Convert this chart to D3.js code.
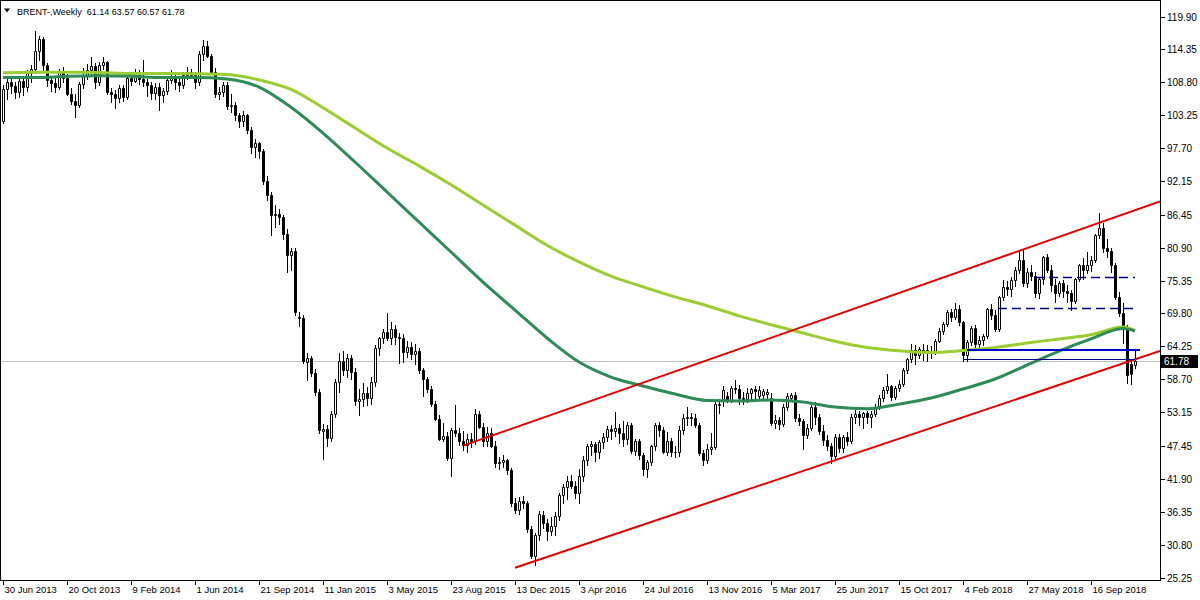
<!DOCTYPE html>
<html><head><meta charset="utf-8">
<script src="https://cdn.jsdelivr.net/npm/d3@7"></script>
<style>body{margin:0;background:#fff}svg{display:block}text{font-family:"Liberation Sans",Arial,sans-serif}</style>
</head><body><svg id="c" width="1200" height="600"></svg>
<script>
// Weekly BRENT candles, week 0 = 30 Jun 2013
const openP = [102.2,107.7,108.8,108.1,107.2,109.0,108.0,110.4,111.0,114.1,116.1,111.7,109.2,108.6,108.0,110.6,109.6,106.9,105.7,105.0,108.5,110.0,110.8,111.6,108.9,111.8,112.2,107.1,106.8,106.1,107.8,106.4,109.6,109.1,110.2,109.3,108.9,108.4,107.0,108.0,106.7,107.3,109.2,109.7,108.9,108.3,110.0,110.6,110.0,108.8,113.6,115.0,113.3,110.6,106.8,107.2,108.4,104.8,104.9,103.3,102.3,103.2,100.8,97.9,98.5,97.2,92.2,89.8,86.4,86.6,86.1,83.2,79.7,80.4,69.2,69.0,61.6,62.3,59.8,56.5,49.9,50.3,48.8,52.8,58.3,61.8,60.3,62.3,60.0,55.0,55.3,56.4,55.5,58.3,63.9,65.6,66.7,65.6,67.1,65.8,65.7,63.3,64.1,63.0,63.5,60.3,58.7,57.1,54.6,52.0,48.7,49.2,45.4,50.1,49.6,48.3,47.6,48.6,48.2,52.8,50.7,48.3,49.6,47.5,44.5,44.8,45.1,43.4,37.9,36.6,38.2,37.8,33.5,28.8,32.5,35.8,34.4,33.1,33.9,35.6,39.1,40.5,41.6,40.7,39.5,42.3,45.0,47.5,47.8,46.4,48.1,49.0,50.3,50.0,50.5,49.6,48.6,51.0,46.6,48.3,45.9,43.5,44.8,47.4,51.0,50.2,46.5,48.2,46.5,46.4,50.2,52.1,52.4,52.2,51.0,46.2,45.0,46.9,47.3,54.3,55.4,55.9,55.2,57.2,57.0,55.5,55.4,56.3,57.0,55.8,56.1,56.2,55.6,51.4,51.9,51.2,54.0,55.6,56.0,52.1,51.7,49.3,50.5,54.0,52.4,50.0,48.4,47.4,45.8,49.0,47.1,48.9,48.2,52.4,52.8,52.3,53.0,52.4,52.8,54.0,55.6,56.9,57.5,55.7,57.3,57.9,60.3,62.1,63.7,62.8,63.6,63.7,63.5,63.3,65.2,66.9,68.0,70.0,69.2,70.6,68.4,62.8,64.9,67.3,64.6,65.4,66.0,70.5,69.6,67.2,72.5,74.3,73.9,75.4,77.1,78.9,75.0,76.8,76.1,73.3,75.6,79.3,77.2,74.6,73.2,74.9,73.6,73.2,71.9,75.6,77.9,77.1,78.0,78.9,83.0,84.2,80.8,80.3,78.0,72.6,69.8,67.4,61.3,61.14];
const highP = [108.3,109.7,109.4,108.9,109.8,109.9,110.8,111.8,117.4,116.6,116.5,112.0,109.8,109.8,111.0,111.4,110.2,107.8,106.8,108.9,111.2,111.9,113.1,112.0,112.2,113.0,112.4,107.8,107.5,108.4,108.4,110.0,110.5,111.0,110.9,112.6,109.4,108.8,108.6,108.6,107.8,109.5,110.9,110.3,109.4,110.6,111.3,111.0,110.5,114.0,115.9,115.7,113.6,111.2,108.0,108.9,108.9,106.9,105.4,103.6,103.9,103.5,101.3,99.2,98.8,97.6,93.0,90.3,88.1,87.4,86.4,84.0,80.9,80.8,70.0,69.5,63.2,62.6,60.5,57.0,51.2,51.0,53.3,58.8,63.2,63.4,63.0,62.8,60.6,57.0,58.0,57.4,59.0,64.5,65.8,67.2,69.8,68.3,67.8,66.5,66.4,65.2,65.0,64.6,64.0,60.6,59.0,57.6,55.0,52.6,51.3,49.8,50.5,54.4,50.4,49.9,49.5,49.6,53.6,53.4,51.3,50.6,50.4,48.3,45.6,46.0,45.3,43.7,38.7,38.9,39.0,38.2,34.0,32.8,36.4,36.4,35.2,35.5,36.3,39.5,41.0,42.4,42.5,41.5,43.5,45.7,47.8,48.3,48.1,48.5,49.6,50.8,50.9,53.1,51.2,51.6,51.5,51.3,48.6,48.6,46.3,45.0,47.6,51.3,51.5,50.6,49.8,48.8,47.5,50.8,52.8,54.1,53.0,52.8,51.4,46.7,47.8,49.6,55.0,55.3,57.6,56.5,57.6,58.6,57.8,56.6,57.2,57.3,57.6,57.5,57.1,57.1,56.3,52.6,52.4,54.5,56.4,56.4,56.6,52.8,52.0,51.2,54.3,54.8,52.8,50.9,49.3,48.0,49.5,49.4,49.3,49.8,52.8,53.5,53.4,53.2,53.4,53.3,54.5,56.0,57.4,59.5,57.8,57.6,58.5,60.6,62.3,64.7,64.4,64.1,64.6,64.4,64.3,65.5,67.3,68.4,70.4,70.6,71.5,71.2,68.6,65.4,67.6,67.8,66.0,66.4,70.8,71.4,70.4,72.8,75.4,75.3,76.0,77.6,80.5,80.6,77.5,77.9,76.8,75.9,79.5,79.8,78.0,75.6,75.3,75.4,74.6,73.7,75.8,78.2,79.2,80.2,79.5,83.2,86.8,85.0,82.3,80.8,78.3,73.4,71.5,67.9,62.0,63.57];
const lowP = [101.9,106.0,107.0,106.2,106.3,106.7,107.4,108.9,110.3,112.5,110.9,108.1,107.3,107.2,107.6,108.8,106.6,105.2,102.9,104.6,107.9,109.3,110.1,107.9,108.3,111.0,106.8,105.5,104.5,105.4,105.6,105.9,108.3,108.8,108.5,108.2,106.5,106.0,106.0,104.1,105.4,106.8,108.7,107.6,107.3,107.8,109.3,109.5,107.9,108.4,112.5,113.0,110.3,106.3,106.0,106.5,104.3,103.8,102.4,101.2,101.5,100.3,96.9,96.2,96.1,91.6,88.9,83.0,84.4,84.9,82.4,76.8,77.1,69.6,67.6,61.5,58.6,59.3,56.0,49.7,45.3,47.5,48.3,52.3,56.5,59.4,59.0,58.7,54.3,52.7,54.2,54.3,54.5,57.5,62.8,64.8,65.3,64.6,64.7,61.4,61.6,62.5,62.1,61.2,59.8,55.9,56.6,54.2,51.8,48.4,48.2,45.0,42.3,49.2,47.6,46.8,46.5,47.2,47.8,50.4,47.4,47.5,47.2,43.9,43.5,43.9,42.7,37.3,36.1,35.9,36.9,33.0,28.6,27.4,31.6,33.6,31.5,32.5,32.4,35.0,37.8,38.5,40.3,38.6,37.8,41.5,44.2,45.9,44.9,45.4,47.1,48.2,48.6,49.2,48.0,47.5,47.8,46.3,45.9,45.3,42.5,42.2,44.3,46.8,49.2,46.2,45.9,45.8,45.6,45.7,49.4,50.9,51.0,50.6,45.9,44.2,44.6,46.1,47.0,53.0,54.2,54.8,54.9,56.4,54.6,54.6,54.8,55.4,55.5,55.2,55.3,55.4,51.0,50.4,50.3,50.8,53.5,55.1,51.6,50.9,47.0,48.8,50.1,51.2,49.4,47.6,46.7,44.5,45.3,46.5,46.5,47.6,47.9,51.4,51.0,50.5,51.3,50.7,52.5,53.6,55.0,56.4,55.2,55.4,56.8,57.5,59.8,61.6,61.2,62.2,61.9,61.8,62.2,63.0,64.9,66.3,67.6,68.6,68.9,67.9,61.8,61.8,64.5,63.6,63.7,64.4,65.7,68.8,66.8,66.9,72.0,72.9,72.8,74.4,76.6,74.5,74.3,75.4,72.6,72.4,74.8,76.8,73.6,71.8,72.7,72.5,71.8,70.3,71.6,75.2,75.6,76.6,77.0,78.5,82.5,80.2,79.3,76.8,72.3,69.3,64.8,58.1,57.9,60.57];
const closeP = [107.7,108.8,108.1,107.2,109.0,108.0,110.4,111.0,114.1,116.1,111.7,109.2,108.6,108.0,110.6,109.6,106.9,105.7,105.0,108.5,110.0,110.8,111.6,108.9,111.8,112.2,107.1,106.8,106.1,107.8,106.4,109.6,109.1,110.2,109.3,108.9,108.4,107.0,108.0,106.7,107.3,109.2,109.7,108.9,108.3,110.0,110.6,110.0,108.8,113.6,115.0,113.3,110.6,106.8,107.2,108.4,104.8,104.9,103.3,102.3,103.2,100.8,97.9,98.5,97.2,92.2,89.8,86.4,86.6,86.1,83.2,79.7,80.4,70.1,69.0,61.8,62.3,59.8,56.5,50.1,50.3,48.8,52.8,58.3,61.8,60.3,62.3,60.0,55.0,55.3,56.4,55.5,58.3,63.9,65.6,66.7,65.6,67.1,65.8,65.7,63.3,64.1,63.0,63.5,60.3,58.7,57.1,54.6,52.0,48.7,49.2,45.4,50.1,49.6,48.3,47.6,48.6,48.2,52.8,50.7,48.3,49.6,47.5,44.5,44.8,45.1,43.4,37.9,36.6,38.2,37.8,33.5,28.8,32.4,36.0,34.4,33.1,33.9,35.6,39.1,40.5,41.6,40.7,39.5,42.3,45.0,47.5,47.8,46.4,48.1,49.0,50.3,50.0,50.5,49.6,48.6,51.0,46.6,48.3,45.9,43.5,44.8,47.4,51.0,50.2,46.5,48.2,46.5,46.4,50.2,52.1,52.4,52.2,51.0,46.2,45.0,46.9,47.3,54.6,54.6,56.9,55.2,57.2,57.0,55.5,55.4,56.3,57.0,56.7,56.9,56.8,56.6,51.4,51.9,51.2,54.0,55.8,56.0,52.1,51.7,49.3,50.5,54.0,52.4,50.0,48.4,47.4,45.8,49.0,47.1,48.9,48.2,52.4,52.8,52.3,53.0,52.4,52.8,54.0,55.6,56.9,57.5,55.7,57.3,57.9,60.3,62.1,63.7,62.8,63.8,63.7,63.5,63.3,65.2,66.9,68.0,70.0,69.2,70.6,68.4,62.8,64.9,67.3,64.6,65.4,66.0,70.5,69.6,67.2,72.5,74.3,73.9,75.4,77.1,78.9,75.0,76.8,76.1,73.3,75.6,79.3,77.2,74.6,73.2,74.9,73.6,73.2,71.9,75.6,77.9,77.1,78.0,78.9,83.0,84.2,80.8,80.3,78.0,72.6,69.8,67.4,59.4,59.6,61.78];

// moving averages, sampled by week index
const maWeeks = [0,8,16,24,32,40,48,56,64,72,80,88,96,104,112,120,128,136,144,152,160,168,176,184,192,200,208,216,224,232,240,248,256,264,272,280,283];
const maFast = [109.6,109.6,109.8,109.9,109.8,109.6,109.6,109.35,108.0,104.6,100.24,95.35,90.29,85.23,80.17,75.1,70.38,65.66,61.6,59.07,57.56,56.2,55.11,55.03,55.2,54.86,54.0,53.7,54.5,55.53,57.05,58.74,61.1,63.46,65.5,67.26,66.84];
const maSlow = [110.4,110.5,110.5,110.45,110.3,110.3,110.25,110.1,109.2,107.6,104.5,101.1,97.7,94.7,91.5,88.1,84.7,81.3,78.5,76.1,74.3,72.6,71.1,69.4,67.9,66.5,65.1,64.05,63.5,63.2,63.55,64.05,64.8,65.5,66.2,67.5,66.9];

// trend channel anchors [week, price]
const trendUpper = [[115.1,47.5],[289.25,88.68]];
const trendLower = [[128,26.9],[289.25,63.46]];

// horizontal levels
const levelSolidBlue = {price:63.55, from:241, to:284.25};
const levelNavy = {price:62.05, from:240, to:283};
const levelDashUp = {price:75.9, from:258, to:283};
const levelDashLow = {price:70.67, from:248.75, to:283};
const lastPrice = 61.78;

const yTicks = [119.90,114.35,108.80,103.25,97.70,92.15,86.45,80.90,75.35,69.80,64.25,58.70,53.15,47.45,41.90,36.35,30.80,25.25];
const xTickWeeks = [0,16,32,48,64,80,96,112,128,144,160,176,192,208,224,240,256,272];
const xTickLabels = ["30 Jun 2013","20 Oct 2013","9 Feb 2014","1 Jun 2014","21 Sep 2014","11 Jan 2015","3 May 2015","23 Aug 2015","13 Dec 2015","3 Apr 2016","24 Jul 2016","13 Nov 2016","5 Mar 2017","25 Jun 2017","15 Oct 2017","4 Feb 2018","27 May 2018","16 Sep 2018"];

const svg = d3.select('#c');
const W = 1160, H = 580;
const x = d3.scaleLinear().domain([0, 289.25]).range([3, W]);
const y = d3.scaleLinear().domain([25.25, 119.90]).range([577.5, 16.5]);

svg.append('defs').append('clipPath').attr('id','clip').append('rect').attr('x',1).attr('y',1).attr('width',W-1).attr('height',H-1);
const g = svg.append('g').attr('clip-path','url(#clip)');

// last price line
g.append('line').attr('x1',0).attr('x2',W).attr('y1',Math.round(y(lastPrice))+0.5).attr('y2',Math.round(y(lastPrice))+0.5)
  .attr('stroke','#c0c0c0').attr('stroke-width',1);

const idx = d3.range(closeP.length);
const cx = i => Math.round(x(i));
g.selectAll('line.wick').data(idx).join('line').attr('class','wick')
  .attr('x1', i => cx(i)+0.5).attr('x2', i => cx(i)+0.5)
  .attr('y1', i => Math.round(y(highP[i]))).attr('y2', i => Math.round(y(lowP[i]))+1)
  .attr('stroke','#000').attr('stroke-width',1).attr('shape-rendering','crispEdges');
g.selectAll('path.body').data(idx).join('path').attr('class','body')
  .attr('d', i => {
    const t = Math.round(y(Math.max(openP[i], closeP[i]))) + 0.5;
    const b = Math.round(y(Math.min(openP[i], closeP[i]))) + 0.5;
    const l = cx(i) - 0.5;
    return `M${l},${t}H${l+2}V${b}H${l}Z`;
  })
  .attr('fill', i => closeP[i] >= openP[i] ? '#fff' : '#000')
  .attr('stroke','#000').attr('stroke-width',1);

// moving averages
const maLine = d3.line().x(d => x(d[0])).y(d => y(d[1])).curve(d3.curveMonotoneX);
g.append('path').attr('d', maLine(maWeeks.map((w,k)=>[w, maSlow[k]])))
  .attr('fill','none').attr('stroke','#9acd32').attr('stroke-width',3);
g.append('path').attr('d', maLine(maWeeks.map((w,k)=>[w, maFast[k]])))
  .attr('fill','none').attr('stroke','#2e8b57').attr('stroke-width',3);

// trend channel
[trendUpper, trendLower].forEach(t => {
  g.append('line').attr('x1', x(t[0][0])).attr('y1', y(t[0][1])).attr('x2', x(t[1][0])).attr('y2', y(t[1][1]))
    .attr('stroke','#e00000').attr('stroke-width',2);
});

// horizontal levels
function level(lv, color, w, dash) {
  const yy = Math.round(y(lv.price)) + (w % 2 ? 0.5 : 0);
  const l = g.append('line').attr('x1', x(lv.from)).attr('x2', x(lv.to)).attr('y1', yy).attr('y2', yy)
    .attr('stroke', color).attr('stroke-width', w);
  if (dash) l.attr('stroke-dasharray', dash);
}
level(levelDashUp, '#000080', 1.5, '9,5');
level(levelDashLow, '#000080', 1.5, '9,5');
level(levelNavy, '#000080', 1, null);
level(levelSolidBlue, '#0000cd', 2, null);

// frame
svg.append('rect').attr('x',0.5).attr('y',0.5).attr('width',W).attr('height',H)
  .attr('fill','none').attr('stroke','#000').attr('stroke-width',1);

// y axis
const ya = svg.append('g');
yTicks.forEach(v => {
  const yy = Math.round(y(v)) + 0.5;
  ya.append('line').attr('x1', W+1).attr('x2', W+5).attr('y1', yy).attr('y2', yy).attr('stroke','#000');
  ya.append('text').attr('x', W+7).attr('y', yy).attr('dy','0.35em').attr('font-size','10px').attr('fill','#000').text(v.toFixed(2));
});
// last price tag
const ly = Math.round(y(lastPrice));
ya.append('rect').attr('x', W+1).attr('y', ly-6).attr('width', 37).attr('height', 13).attr('fill','#000');
ya.append('text').attr('x', W+4).attr('y', ly+0.5).attr('dy','0.35em').attr('font-size','10px').attr('fill','#fff').text(lastPrice.toFixed(2));

// x axis
const xa = svg.append('g');
xTickWeeks.forEach((w,k) => {
  const xx = Math.round(x(w)) + 0.5;
  xa.append('line').attr('x1', xx).attr('x2', xx).attr('y1', H+1).attr('y2', H+5).attr('stroke','#000');
  xa.append('text').attr('x', xx+1).attr('y', 593).attr('font-size','9.5px').attr('fill','#000').text(xTickLabels[k]);
});

// title
svg.append('path').attr('d','M4,8.5L10,8.5L7,12.5Z').attr('fill','#000');
svg.append('text').attr('x',17).attr('y',15).attr('font-size','9px').attr('fill','#000')
  .attr('xml:space','preserve').text('BRENT-,Weekly  61.14 63.57 60.57 61.78');
</script></body></html>
